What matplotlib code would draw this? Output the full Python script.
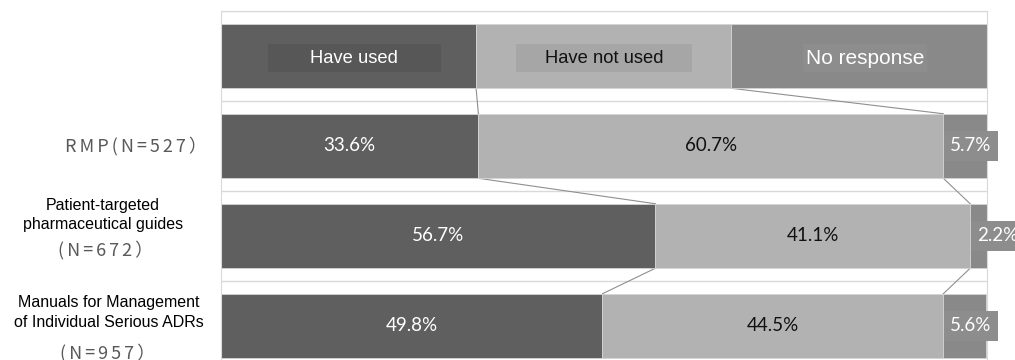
import matplotlib
matplotlib.use("Agg")
import matplotlib.pyplot as plt
import numpy as np
from matplotlib.patches import Rectangle

# survey results (%)
categories = ["RMP", "Patient-targeted pharmaceutical guides",
              "Manuals for Management of Individual Serious ADRs"]
have_used = [33.6, 56.7, 49.8]
have_not_used = [60.7, 41.1, 44.5]
no_response = [5.7, 2.2, 5.6]

# header row doubles as the legend
legend_labels = ["Have used", "Have not used", "No response"]
legend_share = [33.3, 33.3, 33.4]

colors = ["#5f5f5f", "#b2b2b2", "#898989"]
box_colors = ["#575757", "#a6a6a6", "#8d8d8d"]
text_colors = ["white", "#111111", "white"]

W, H = 1015, 360
fig = plt.figure(figsize=(W / 100, H / 100), dpi=100)
ax = fig.add_axes([221 / W, 1 - 371 / H, 766 / W, 360 / H])

bar_h = 0.717
rows = [legend_share] + [list(r) for r in zip(have_used, have_not_used, no_response)]
ypos = np.arange(len(rows))

for y, vals in zip(ypos, rows):
    left = 0
    for j, v in enumerate(vals):
        ax.barh(y, v, left=left, height=bar_h, color=colors[j],
                edgecolor="#d4d4d4", linewidth=0.6, zorder=2)
        left += v

# series lines between consecutive bars
for i in range(len(rows) - 1):
    c0 = np.cumsum(rows[i])[:-1]
    c1 = np.cumsum(rows[i + 1])[:-1]
    for a, b in zip(c0, c1):
        ax.plot([a, b], [ypos[i] + bar_h / 2, ypos[i + 1] - bar_h / 2],
                color="#8f8f8f", lw=0.8, zorder=1)

# legend labels inside the header bar
box_w = [22.6, 23.0, 16.2]
leg_size = [13.2, 13.2, 15]
centers = np.cumsum(legend_share) - np.array(legend_share) / 2
for j, lab in enumerate(legend_labels):
    cx = centers[j] + (0.75 if j != 1 else 0.1)
    ax.add_patch(Rectangle((cx - box_w[j] / 2, 0.022 - 0.155), box_w[j], 0.31,
                           facecolor=box_colors[j], edgecolor="none", zorder=3))
    ax.text(cx, 0.03, lab, ha="center", va="center", color=text_colors[j],
            fontsize=leg_size[j], family="Liberation Sans", zorder=4)

# value labels
for i, vals in enumerate(rows[1:]):
    y = ypos[i + 1]
    left = 0
    for j, v in enumerate(vals):
        if j < 2:
            ax.text(left + v / 2, y, f"{v:.1f}%", ha="center", va="center",
                    color=text_colors[j], fontsize=13.5, family="Lato", zorder=4)
        else:
            ax.annotate(f"{v:.1f}%", (left, y), xytext=(5, 0),
                        textcoords="offset points", ha="left", va="center",
                        color="white", fontsize=13.5, family="Lato", zorder=5,
                        annotation_clip=False,
                        bbox=dict(boxstyle="square,pad=0.35", facecolor=box_colors[2],
                                  edgecolor="none"))
        left += v

ax.set_xlim(0, 100)
ax.set_ylim(3.5, -0.5)
for g in [-0.5, 0.5, 1.5, 2.5]:
    ax.axhline(g, color="#d9d9d9", lw=1, zorder=0)
ax.set_xticks([])
ax.set_yticks([])
for side in ["left", "right", "top"]:
    ax.spines[side].set_color("#d9d9d9")
ax.spines["bottom"].set_visible(False)

# category labels on the left
cjk = ["Noto Sans CJK JP", "DejaVu Sans"]
ts = "\u2006"


def spaced(s):
    return ts.join(s)


def ftext(px, py, s, **kw):
    fig.text(px / W, 1 - py / H, s, ha="center", **kw)


ftext(136, 146, spaced("RMP(N=527\uff09"), va="center", color="#595959",
      fontsize=13, family=cjk)

ftext(103, 210, "Patient-targeted", va="baseline", fontsize=11.5,
      family="Liberation Sans")
ftext(103, 229, "pharmaceutical guides", va="baseline", fontsize=11.5,
      family="Liberation Sans")
ftext(106, 250, spaced("(N=672\uff09"), va="center", color="#595959",
      fontsize=13, family=cjk)

ftext(109, 307, "Manuals for Management", va="baseline", fontsize=11.5,
      family="Liberation Sans")
ftext(109, 327, "of Individual Serious ADRs", va="baseline", fontsize=11.5,
      family="Liberation Sans")
ftext(108, 353, spaced("(N=957\uff09"), va="center", color="#595959",
      fontsize=13, family=cjk)

fig.savefig("out.png", dpi=100)
